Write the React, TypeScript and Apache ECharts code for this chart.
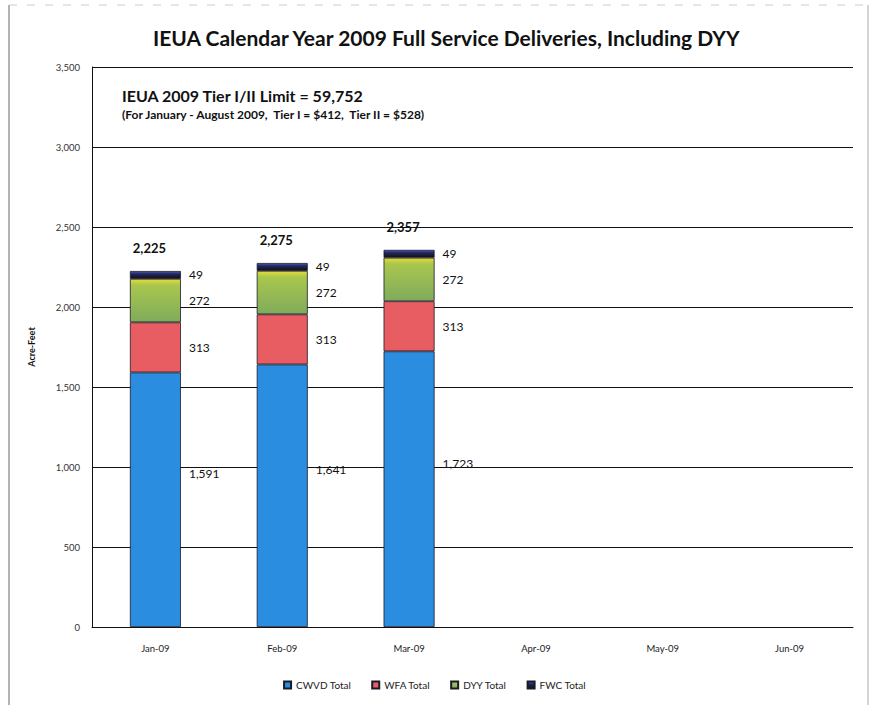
import React, { useEffect, useRef } from "react";
import * as echarts from "echarts";

const categories = ["Jan-09", "Feb-09", "Mar-09", "Apr-09", "May-09", "Jun-09"];
const cwvd = [1591, 1641, 1723, null, null, null];
const wfa = [313, 313, 313, null, null, null];
const dyy = [272, 272, 272, null, null, null];
const fwc = [49, 49, 49, null, null, null];
const totals = [2225, 2275, 2357, null, null, null];
const yTicks = [0, 500, 1000, 1500, 2000, 2500, 3000, 3500];

const FONT = "Lato, 'Open Sans', sans-serif";

export default function App() {
  const ref = useRef<HTMLDivElement>(null);
  useEffect(() => {
    if (!ref.current) return;
    const chart = echarts.init(ref.current, undefined, { renderer: "svg" });
    const segLabel = (offsetY: number) => ({
      show: true,
      position: "right" as const,
      distance: 8,
      offset: [0, offsetY],
      color: "#111",
      fontSize: 12,
      fontFamily: FONT,
      formatter: (p: any) => (p.value == null ? "" : Number(p.value).toLocaleString("en-US")),
    });
    const barBase = {
      type: "bar" as const,
      stack: "total",
      barWidth: 51,
      itemStyle: { borderColor: "#1a1a2a", borderWidth: 0.8 },
    };
    chart.setOption({
      animation: false,
      backgroundColor: "#fff",
      textStyle: { fontFamily: FONT },
      title: {
        text: "IEUA Calendar Year 2009 Full Service Deliveries, Including DYY",
        left: 148,
        top: 22,
        textStyle: { fontFamily: FONT, fontSize: 21, fontWeight: "bold", color: "#111" },
      },
      grid: { left: 92, right: 16, top: 67, bottom: 78, containLabel: false },
      legend: {
        bottom: 10,
        left: "center",
        data: ["CWVD Total", "WFA Total", "DYY Total", "FWC Total"],
        icon: "rect",
        itemWidth: 7,
        itemHeight: 7,
        itemGap: 20,
        textStyle: { fontFamily: FONT, fontSize: 10, color: "#222" },
      },
      xAxis: {
        type: "category",
        data: categories,
        axisLine: { lineStyle: { color: "#111", width: 1 } },
        axisTick: { show: false },
        axisLabel: { fontFamily: FONT, fontSize: 9.5, color: "#222", margin: 16 },
      },
      yAxis: {
        type: "value",
        min: 0,
        max: 3500,
        interval: 500,
        name: "Acre-Feet",
        nameLocation: "middle",
        nameRotate: 90,
        nameGap: 56,
        nameTextStyle: { fontFamily: FONT, fontSize: 9, fontWeight: "bold", color: "#111" },
        axisLine: { show: true, lineStyle: { color: "#111", width: 1 } },
        axisTick: { show: false },
        axisLabel: {
          fontFamily: FONT,
          fontSize: 9.5,
          color: "#333",
          margin: 12,
          formatter: (v: number) => (yTicks.includes(v) ? v.toLocaleString("en-US") : ""),
        },
        splitLine: { lineStyle: { color: "#111", width: 1 } },
      },
      series: [
        {
          ...barBase,
          name: "CWVD Total",
          data: cwvd,
          itemStyle: { ...barBase.itemStyle, color: "#2b8ddf" },
          label: segLabel(-26),
        },
        {
          ...barBase,
          name: "WFA Total",
          data: wfa,
          itemStyle: { ...barBase.itemStyle, color: "#e85d62" },
          label: segLabel(0),
        },
        {
          ...barBase,
          name: "DYY Total",
          data: dyy,
          itemStyle: {
            ...barBase.itemStyle,
            color: new echarts.graphic.LinearGradient(0, 0, 0, 1, [
              { offset: 0, color: "#e2dc3a" },
              { offset: 0.14, color: "#a9c64e" },
              { offset: 1, color: "#7fab5b" },
            ]),
          },
          label: segLabel(0),
        },
        {
          ...barBase,
          name: "FWC Total",
          data: fwc,
          itemStyle: {
            ...barBase.itemStyle,
            color: new echarts.graphic.LinearGradient(0, 0, 0, 1, [
              { offset: 0, color: "#4a5ac8" },
              { offset: 0.35, color: "#24285e" },
              { offset: 1, color: "#111" },
            ]),
          },
          label: segLabel(0),
        },
        {
          type: "line",
          name: "Totals",
          data: totals,
          symbol: "circle",
          symbolSize: 1,
          showSymbol: true,
          itemStyle: { color: "rgba(0,0,0,0)" },
          lineStyle: { opacity: 0 },
          silent: true,
          z: 10,
          label: {
            show: true,
            position: "top",
            distance: 16,
            offset: [-6, 0],
            fontFamily: FONT,
            fontSize: 13,
            fontWeight: "bold",
            color: "#111",
            formatter: (p: any) => (p.value == null ? "" : Number(p.value).toLocaleString("en-US")),
          },
        },
      ],
      graphic: [
        {
          type: "text",
          left: 122,
          top: 87,
          style: {
            text: "IEUA 2009 Tier I/II Limit = 59,752",
            fontFamily: FONT,
            fontSize: 16,
            fontWeight: "bold",
            fill: "#111",
          },
        },
        {
          type: "text",
          left: 122,
          top: 108,
          style: {
            text: "(For January - August 2009,  Tier I = $412,  Tier II = $528)",
            fontFamily: FONT,
            fontSize: 12,
            fontWeight: "bold",
            fill: "#111",
          },
        },
        {
          type: "line",
          shape: { x1: 9, y1: 5, x2: 9, y2: 705 },
          style: { stroke: "#666", lineWidth: 1 },
        },
        {
          type: "line",
          shape: { x1: 9, y1: 5, x2: 868, y2: 5 },
          style: { stroke: "#ccc", lineWidth: 1, lineDash: [8, 10] },
        },
        {
          type: "line",
          shape: { x1: 868, y1: 5, x2: 868, y2: 705 },
          style: { stroke: "#aaa", lineWidth: 1 },
        },
      ],
    });
    return () => chart.dispose();
  }, []);
  return <div ref={ref} style={{ width: 869, height: 705, position: "absolute", left: 0, top: 0 }} />;
}
